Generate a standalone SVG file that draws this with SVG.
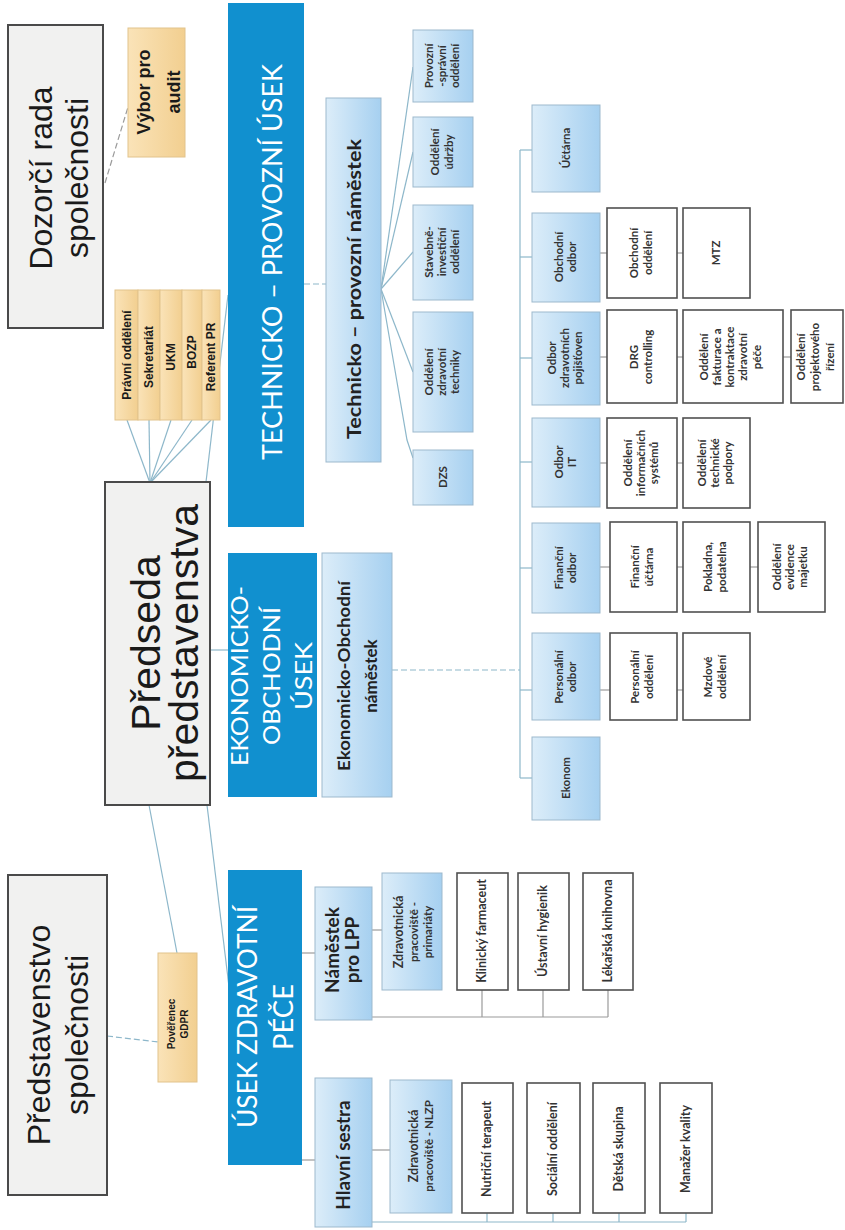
<svg xmlns="http://www.w3.org/2000/svg" width="845" height="1230" viewBox="0 0 845 1230">
<defs>
<linearGradient id="gLB" x1="0" y1="0" x2="1" y2="0"><stop offset="0" stop-color="#dcedf9"/><stop offset="1" stop-color="#a6d0f0"/></linearGradient>
<linearGradient id="gOR" x1="0" y1="0" x2="1" y2="0"><stop offset="0" stop-color="#fae3b8"/><stop offset="1" stop-color="#f2cf90"/></linearGradient>
</defs>
<style>
.grey{fill:#f1f1f0;stroke:#4a4a4a;stroke-width:2}
.blue{fill:#1190cf}
.lb{fill:url(#gLB);stroke:#9db9cd;stroke-width:1}
.or{fill:url(#gOR);stroke:#e2c38c;stroke-width:1}
.wb{fill:#fff;stroke:#505050;stroke-width:1.6}
.c{stroke:#8db7ca;stroke-width:1.2;fill:none}
.cg{stroke:#9a9a9a;stroke-width:1.2;fill:none}
.d{stroke-dasharray:6 3}
text{text-anchor:middle}
.big{font-family:"Liberation Sans",Arial,sans-serif;fill:#1a1a1a}
.hd{font-family:Lato,"Open Sans",sans-serif;fill:#fff}
.b{font-family:Lato,"Liberation Sans",sans-serif;font-weight:bold;fill:#222}
.ab{font-family:"Liberation Sans",Arial,sans-serif;font-weight:bold;fill:#1a1a1a}
.s{font-family:Lato,"Liberation Sans",sans-serif;font-weight:bold;fill:#333;font-size:11.5px}
.w{font-family:Lato,"Liberation Sans",sans-serif;font-weight:bold;fill:#333;font-size:12.5px}
</style>

<g id="connectors">
<line class="cg d" x1="105" y1="183" x2="128" y2="107"/>
<line class="c" x1="127" y1="420" x2="150" y2="483"/>
<line class="c" x1="149" y1="420" x2="150" y2="483"/>
<line class="c" x1="171" y1="420" x2="150" y2="483"/>
<line class="c" x1="192" y1="420" x2="150" y2="483"/>
<line class="c" x1="211" y1="420" x2="150" y2="483"/>
<line class="c" x1="206" y1="482" x2="228" y2="295"/>
<line class="c" x1="210" y1="650" x2="228" y2="650"/>
<line class="c" x1="149" y1="805" x2="177" y2="953"/>
<line class="c" x1="207" y1="805" x2="230" y2="995"/>
<line class="c d" x1="107" y1="1036" x2="158" y2="1042"/>
<line class="c d" x1="304" y1="284" x2="326" y2="284"/>
<line class="c" x1="381" y1="289" x2="413" y2="67"/>
<line class="c" x1="381" y1="289" x2="413" y2="152"/>
<line class="c" x1="381" y1="289" x2="413" y2="252"/>
<line class="c" x1="381" y1="289" x2="413" y2="372"/>
<polyline class="c" points="381,289 407,440 413,458"/>
<line class="c d" x1="392" y1="670" x2="520" y2="670"/>
<line class="c" x1="520" y1="150" x2="520" y2="778"/>
<line class="c" x1="520" y1="150" x2="532" y2="150"/>
<line class="c" x1="520" y1="257" x2="532" y2="257"/>
<line class="c" x1="520" y1="358" x2="532" y2="358"/>
<line class="c" x1="520" y1="462" x2="532" y2="462"/>
<line class="c" x1="520" y1="568" x2="532" y2="568"/>
<line class="c" x1="520" y1="690" x2="532" y2="690"/>
<line class="c" x1="520" y1="778" x2="532" y2="778"/>
<line class="cg" x1="600" y1="253" x2="607" y2="253"/>
<line class="cg" x1="677" y1="253" x2="683" y2="253"/>
<line class="cg" x1="600" y1="357" x2="607" y2="357"/>
<line class="cg" x1="677" y1="357" x2="683" y2="357"/>
<line class="cg" x1="783" y1="357" x2="791" y2="357"/>
<line class="cg" x1="600" y1="463" x2="607" y2="463"/>
<line class="cg" x1="677" y1="463" x2="683" y2="463"/>
<line class="cg" x1="600" y1="567" x2="610" y2="567"/>
<line class="cg" x1="677" y1="567" x2="683" y2="567"/>
<line class="cg" x1="750" y1="567" x2="758" y2="567"/>
<line class="cg" x1="600" y1="690" x2="610" y2="690"/>
<line class="cg" x1="677" y1="690" x2="683" y2="690"/>
<line class="cg" x1="302" y1="953" x2="315" y2="953"/>
<line class="cg" x1="302" y1="1160" x2="315" y2="1160"/>
<line class="cg" x1="372" y1="930" x2="382" y2="930"/>
<line class="cg" x1="372" y1="1017" x2="608" y2="1017"/>
<line class="cg" x1="482" y1="990" x2="482" y2="1017"/>
<line class="cg" x1="543" y1="990" x2="543" y2="1017"/>
<line class="cg" x1="608" y1="990" x2="608" y2="1017"/>
<line class="cg" x1="372" y1="1150" x2="390" y2="1150"/>
<line class="c" x1="372" y1="1222" x2="686" y2="1222"/>
<line class="c" x1="487" y1="1213" x2="487" y2="1222"/>
<line class="c" x1="553" y1="1213" x2="553" y2="1222"/>
<line class="c" x1="619" y1="1213" x2="619" y2="1222"/>
<line class="c" x1="686" y1="1213" x2="686" y2="1222"/>
</g>

<g id="n-dozorci"><rect class="grey" x="8" y="25" width="95" height="303"/>
<text class="big" font-size="32" transform="translate(55 178) rotate(-90)"><tspan x="0" y="-3">Dozorčí rada</tspan><tspan x="0" y="33">společnosti</tspan></text></g>

<g id="n-vybor"><rect class="or" x="128" y="28" width="57" height="129"/>
<text class="ab" font-size="18" transform="translate(156 92) rotate(-90)"><tspan x="0" y="-6">Výbor pro</tspan><tspan x="0" y="24">audit</tspan></text></g>

<g id="n-pravni"><rect class="or" x="115" y="290" width="23" height="130"/>
<text class="ab" font-size="12" transform="translate(126 355) rotate(-90)"><tspan x="0" y="5">Právní oddělení</tspan></text></g>
<g id="n-sekretariat"><rect class="or" x="138" y="290" width="22" height="130"/>
<text class="ab" font-size="12" transform="translate(149 357) rotate(-90)"><tspan x="0" y="4">Sekretariát</tspan></text></g>
<g id="n-ukm"><rect class="or" x="160" y="290" width="22" height="130"/>
<text class="ab" font-size="12" transform="translate(171 357) rotate(-90)"><tspan x="0" y="4">UKM</tspan></text></g>
<g id="n-bozp"><rect class="or" x="182" y="290" width="20" height="130"/>
<text class="ab" font-size="12" transform="translate(192 352) rotate(-90)"><tspan x="0" y="4">BOZP</tspan></text></g>
<g id="n-referent"><rect class="or" x="202" y="290" width="18" height="130"/>
<text class="ab" font-size="12" transform="translate(211 357) rotate(-90)"><tspan x="0" y="4">Referent PR</tspan></text></g>

<g id="n-predseda"><rect class="grey" x="105" y="482" width="105" height="323"/>
<text class="big" font-size="41" transform="translate(157 643) rotate(-90)"><tspan x="0" y="3">Předseda</tspan><tspan x="0" y="41">představenstva</tspan></text></g>

<g id="n-predstavenstvo"><rect class="grey" x="8" y="875" width="99" height="320"/>
<text class="big" font-size="32" transform="translate(57 1035) rotate(-90)"><tspan x="0" y="-7">Představenstvo</tspan><tspan x="0" y="31">společnosti</tspan></text></g>

<g id="n-gdpr"><rect class="or" x="158" y="953" width="39" height="129"/>
<text class="ab" font-size="10" transform="translate(177 1024) rotate(-90)"><tspan x="0" y="-2">Pověřenec</tspan><tspan x="0" y="11">GDPR</tspan></text></g>

<g id="n-tp-usek"><rect class="blue" x="228" y="3" width="76" height="524"/>
<text class="hd" font-size="27" transform="translate(266 262) rotate(-90)"><tspan x="0" y="16" textLength="396" lengthAdjust="spacingAndGlyphs">TECHNICKO – PROVOZNÍ ÚSEK</tspan></text></g>

<g id="n-eo-usek"><rect class="blue" x="228" y="553" width="89" height="244"/>
<text class="hd" font-size="23" transform="translate(272 676) rotate(-90)"><tspan x="0" y="-24" textLength="180" lengthAdjust="spacingAndGlyphs">EKONOMICKO-</tspan><tspan x="0" y="8" textLength="138" lengthAdjust="spacingAndGlyphs">OBCHODNÍ</tspan><tspan x="0" y="40" textLength="68" lengthAdjust="spacingAndGlyphs">ÚSEK</tspan></text></g>

<g id="n-zp-usek"><rect class="blue" x="228" y="870" width="74" height="295"/>
<text class="hd" font-size="26" transform="translate(265 1017) rotate(-90)"><tspan x="0" y="-8" textLength="222" lengthAdjust="spacingAndGlyphs">ÚSEK ZDRAVOTNÍ</tspan><tspan x="0" y="28" textLength="66" lengthAdjust="spacingAndGlyphs">PÉČE</tspan></text></g>

<g id="n-tp-namestek"><rect class="lb" x="326" y="98" width="55" height="364"/>
<text class="b" font-size="19" transform="translate(353 289) rotate(-90)"><tspan x="0" y="8" textLength="300" lengthAdjust="spacingAndGlyphs">Technicko – provozní náměstek</tspan></text></g>

<g id="n-provozne"><rect class="lb" x="413" y="30" width="60" height="72"/>
<text class="s" font-size="10" transform="translate(443 66) rotate(-90)"><tspan x="0" y="-10">Provozní</tspan><tspan x="0" y="3">-správní</tspan><tspan x="0" y="16">oddělení</tspan></text></g>
<g id="n-udrzby"><rect class="lb" x="413" y="117" width="60" height="70"/>
<text class="s" transform="translate(443 152) rotate(-90)"><tspan x="0" y="-4">Oddělení</tspan><tspan x="0" y="10">údržby</tspan></text></g>
<g id="n-stavebni"><rect class="lb" x="413" y="205" width="60" height="95"/>
<text class="s" transform="translate(443 252) rotate(-90)"><tspan x="0" y="-10">Stavebně-</tspan><tspan x="0" y="3">investiční</tspan><tspan x="0" y="16">oddělení</tspan></text></g>
<g id="n-zdrav-tech"><rect class="lb" x="413" y="312" width="60" height="120"/>
<text class="s" transform="translate(443 372) rotate(-90)"><tspan x="0" y="-10">Oddělení</tspan><tspan x="0" y="3">zdravotní</tspan><tspan x="0" y="16">techniky</tspan></text></g>
<g id="n-dzs"><rect class="lb" x="413" y="450" width="60" height="55"/>
<text class="s" transform="translate(443 477) rotate(-90)"><tspan x="0" y="4">DZS</tspan></text></g>

<g id="n-eo-namestek"><rect class="lb" x="322" y="553" width="70" height="244"/>
<text class="b" font-size="17" transform="translate(357 676) rotate(-90)"><tspan x="0" y="-7" textLength="190" lengthAdjust="spacingAndGlyphs">Ekonomicko-Obchodní</tspan><tspan x="0" y="20">náměstek</tspan></text></g>

<g id="n-uctarna"><rect class="lb" x="532" y="105" width="68" height="87"/>
<text class="s" transform="translate(566 148) rotate(-90)"><tspan x="0" y="4">Účtárna</tspan></text></g>
<g id="n-obchodni-odbor"><rect class="lb" x="532" y="213" width="68" height="89"/>
<text class="s" transform="translate(566 257) rotate(-90)"><tspan x="0" y="-3">Obchodní</tspan><tspan x="0" y="10">odbor</tspan></text></g>
<g id="n-odbor-zp"><rect class="lb" x="532" y="312" width="68" height="93"/>
<text class="s" transform="translate(566 358) rotate(-90)"><tspan x="0" y="-10">Odbor</tspan><tspan x="0" y="3">zdravotních</tspan><tspan x="0" y="16">pojišťoven</tspan></text></g>
<g id="n-odbor-it"><rect class="lb" x="532" y="418" width="68" height="89"/>
<text class="s" transform="translate(566 462) rotate(-90)"><tspan x="0" y="-3">Odbor</tspan><tspan x="0" y="10">IT</tspan></text></g>
<g id="n-financni-odbor"><rect class="lb" x="532" y="523" width="68" height="90"/>
<text class="s" transform="translate(566 568) rotate(-90)"><tspan x="0" y="-3">Finanční</tspan><tspan x="0" y="10">odbor</tspan></text></g>
<g id="n-personalni-odbor"><rect class="lb" x="532" y="633" width="68" height="87"/>
<text class="s" transform="translate(566 677) rotate(-90)"><tspan x="0" y="-3">Personální</tspan><tspan x="0" y="10">odbor</tspan></text></g>
<g id="n-ekonom"><rect class="lb" x="532" y="737" width="68" height="83"/>
<text class="s" transform="translate(566 778) rotate(-90)"><tspan x="0" y="4">Ekonom</tspan></text></g>

<g id="n-obchodni-oddeleni"><rect class="wb" x="607" y="208" width="70" height="90"/>
<text class="s" transform="translate(642 253) rotate(-90)"><tspan x="0" y="-4">Obchodní</tspan><tspan x="0" y="10">oddělení</tspan></text></g>
<g id="n-mtz"><rect class="wb" x="683" y="208" width="67" height="90"/>
<text class="s" transform="translate(716 253) rotate(-90)"><tspan x="0" y="4">MTZ</tspan></text></g>
<g id="n-drg"><rect class="wb" x="607" y="310" width="70" height="93"/>
<text class="s" transform="translate(642 357) rotate(-90)"><tspan x="0" y="-4">DRG</tspan><tspan x="0" y="10">controlling</tspan></text></g>
<g id="n-fakturace"><rect class="wb" x="683" y="310" width="100" height="93"/>
<text class="s" transform="translate(733 357) rotate(-90)"><tspan x="0" y="-25">Oddělení</tspan><tspan x="0" y="-12">fakturace a</tspan><tspan x="0" y="1">kontraktace</tspan><tspan x="0" y="14">zdravotní</tspan><tspan x="0" y="28">péče</tspan></text></g>
<g id="n-projektove"><rect class="wb" x="791" y="310" width="52" height="93"/>
<text class="s" transform="translate(817 357) rotate(-90)"><tspan x="0" y="-12">Oddělení</tspan><tspan x="0" y="2">projektového</tspan><tspan x="0" y="17">řízení</tspan></text></g>
<g id="n-info-systemy"><rect class="wb" x="607" y="418" width="70" height="90"/>
<text class="s" transform="translate(642 463) rotate(-90)"><tspan x="0" y="-10">Oddělení</tspan><tspan x="0" y="3">informačních</tspan><tspan x="0" y="16">systémů</tspan></text></g>
<g id="n-tech-podpora"><rect class="wb" x="683" y="418" width="67" height="90"/>
<text class="s" transform="translate(716 463) rotate(-90)"><tspan x="0" y="-10">Oddělení</tspan><tspan x="0" y="3">technické</tspan><tspan x="0" y="16">podpory</tspan></text></g>
<g id="n-fin-uctarna"><rect class="wb" x="610" y="522" width="67" height="90"/>
<text class="s" transform="translate(643 567) rotate(-90)"><tspan x="0" y="-4">Finanční</tspan><tspan x="0" y="10">účtárna</tspan></text></g>
<g id="n-pokladna"><rect class="wb" x="683" y="522" width="67" height="90"/>
<text class="s" transform="translate(716 567) rotate(-90)"><tspan x="0" y="-4">Pokladna,</tspan><tspan x="0" y="10">podatelna</tspan></text></g>
<g id="n-evidence"><rect class="wb" x="758" y="522" width="67" height="90"/>
<text class="s" transform="translate(791 567) rotate(-90)"><tspan x="0" y="-10">Oddělení</tspan><tspan x="0" y="3">evidence</tspan><tspan x="0" y="16">majetku</tspan></text></g>
<g id="n-personalni-oddeleni"><rect class="wb" x="610" y="633" width="67" height="87"/>
<text class="s" transform="translate(643 677) rotate(-90)"><tspan x="0" y="-4">Personální</tspan><tspan x="0" y="10">oddělení</tspan></text></g>
<g id="n-mzdove"><rect class="wb" x="683" y="633" width="67" height="87"/>
<text class="s" transform="translate(716 677) rotate(-90)"><tspan x="0" y="-4">Mzdové</tspan><tspan x="0" y="10">oddělení</tspan></text></g>

<g id="n-lpp"><rect class="lb" x="315" y="887" width="57" height="133"/>
<text class="b" font-size="19" transform="translate(343 950) rotate(-90)"><tspan x="0" y="-4">Náměstek</tspan><tspan x="0" y="16">pro LPP</tspan></text></g>
<g id="n-hlavni"><rect class="lb" x="315" y="1078" width="57" height="149"/>
<text class="b" font-size="19" transform="translate(343 1155) rotate(-90)"><tspan x="0" y="7">Hlavní sestra</tspan></text></g>
<g id="n-primariaty"><rect class="lb" x="382" y="873" width="60" height="117"/>
<text class="s" transform="translate(412 932) rotate(-90)"><tspan x="0" y="-9" font-size="12.5">Zdravotnická</tspan><tspan x="0" y="6">pracoviště -</tspan><tspan x="0" y="20">primariáty</tspan></text></g>
<g id="n-farmaceut"><rect class="wb" x="457" y="873" width="51" height="117"/>
<text class="w" transform="translate(482 931) rotate(-90)"><tspan x="0" y="4">Klinický farmaceut</tspan></text></g>
<g id="n-hygienik"><rect class="wb" x="518" y="873" width="51" height="117"/>
<text class="w" transform="translate(543 931) rotate(-90)"><tspan x="0" y="4">Ústavní hygienik</tspan></text></g>
<g id="n-knihovna"><rect class="wb" x="583" y="873" width="50" height="117"/>
<text class="w" transform="translate(608 931) rotate(-90)"><tspan x="0" y="4">Lékařská knihovna</tspan></text></g>
<g id="n-nlzp"><rect class="lb" x="390" y="1080" width="62" height="133"/>
<text class="s" transform="translate(421 1146) rotate(-90)"><tspan x="0" y="-3" font-size="12.5">Zdravotnická</tspan><tspan x="0" y="12">pracoviště - NLZP</tspan></text></g>
<g id="n-nutricni"><rect class="wb" x="462" y="1083" width="51" height="130"/>
<text class="w" transform="translate(487 1149) rotate(-90)"><tspan x="0" y="4">Nutriční terapeut</tspan></text></g>
<g id="n-socialni"><rect class="wb" x="527" y="1083" width="53" height="130"/>
<text class="w" transform="translate(553 1149) rotate(-90)"><tspan x="0" y="4">Sociální oddělení</tspan></text></g>
<g id="n-detska"><rect class="wb" x="593" y="1083" width="52" height="130"/>
<text class="w" transform="translate(619 1149) rotate(-90)"><tspan x="0" y="4">Dětská skupina</tspan></text></g>
<g id="n-manazer"><rect class="wb" x="660" y="1083" width="52" height="130"/>
<text class="w" transform="translate(686 1149) rotate(-90)"><tspan x="0" y="4">Manažer kvality</tspan></text></g>
</svg>
